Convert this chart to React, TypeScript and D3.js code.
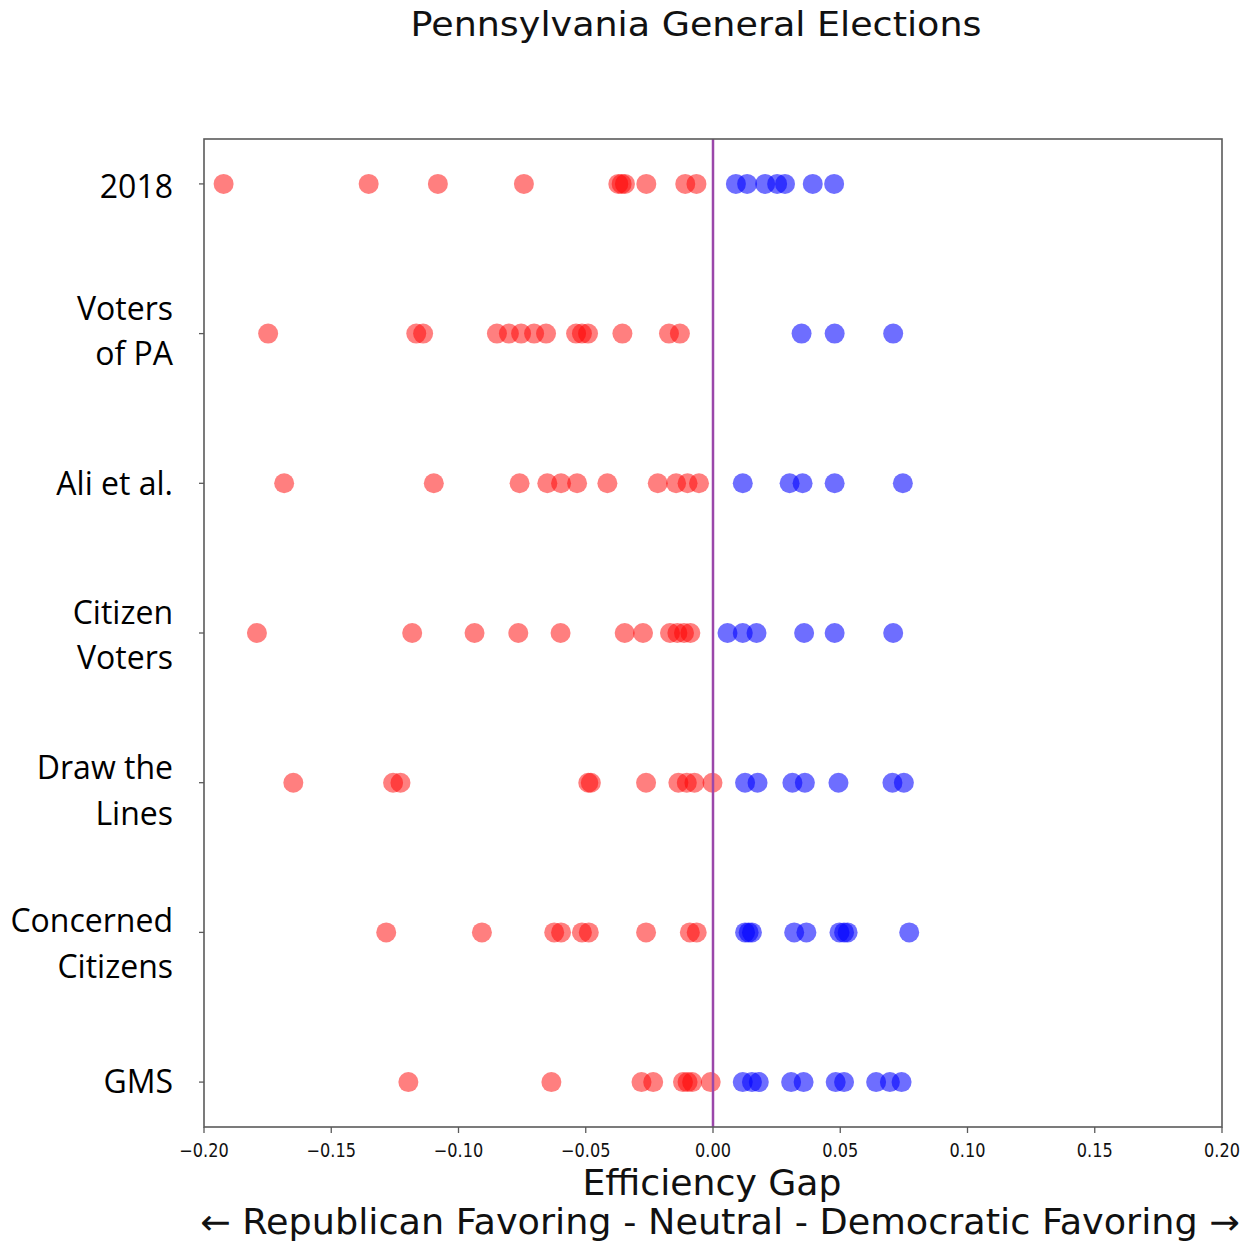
import React from "react";
import * as d3 from "d3";

// ---------- data ----------
const categories = [
  "2018",
  "Voters of PA",
  "Ali et al.",
  "Citizen Voters",
  "Draw the Lines",
  "Concerned Citizens",
  "GMS",
];
const categoryLines = [
  ["2018"],
  ["Voters", "of PA"],
  ["Ali et al."],
  ["Citizen", "Voters"],
  ["Draw the", "Lines"],
  ["Concerned", "Citizens"],
  ["GMS"],
];

const gaps2018 = [-0.1923, -0.1353, -0.1081, -0.0743, -0.0372, -0.0359, -0.0346, -0.0262, -0.0109, -0.0065, 0.009, 0.0134, 0.0205, 0.0252, 0.0283, 0.0392, 0.0476];
const gapsVotersPA = [-0.1748, -0.1166, -0.1139, -0.0849, -0.0802, -0.0754, -0.0703, -0.0656, -0.0538, -0.0515, -0.0491, -0.0356, -0.0173, -0.013, 0.0348, 0.0478, 0.0708];
const gapsAli = [-0.1685, -0.1097, -0.076, -0.0651, -0.0597, -0.0534, -0.0415, -0.0217, -0.0145, -0.01, -0.0055, 0.0117, 0.0301, 0.0352, 0.0478, 0.0746];
const gapsCitizenVoters = [-0.1792, -0.1182, -0.0937, -0.0765, -0.0599, -0.0347, -0.0275, -0.0169, -0.014, -0.0114, -0.0089, 0.0057, 0.0117, 0.0171, 0.0358, 0.0478, 0.0708];
const gapsDrawTheLines = [-0.1649, -0.1257, -0.1228, -0.049, -0.048, -0.0263, -0.0136, -0.0103, -0.0073, -0.0002, 0.0126, 0.0175, 0.0312, 0.0361, 0.0493, 0.0705, 0.075];
const gapsConcerned = [-0.1284, -0.0908, -0.0624, -0.0597, -0.0515, -0.0488, -0.0263, -0.0091, -0.0064, 0.0126, 0.014, 0.0153, 0.0319, 0.0367, 0.0497, 0.0515, 0.0529, 0.0771];
const gapsGMS = [-0.1197, -0.0635, -0.0281, -0.0235, -0.0118, -0.01, -0.0082, -0.0009, 0.0117, 0.0153, 0.018, 0.0307, 0.0356, 0.0482, 0.0515, 0.0641, 0.0695, 0.0741];

const seriesValues = [gaps2018, gapsVotersPA, gapsAli, gapsCitizenVoters, gapsDrawTheLines, gapsConcerned, gapsGMS];

const xTicks = [-0.2, -0.15, -0.1, -0.05, 0, 0.05, 0.1, 0.15, 0.2];

const titleText = "Pennsylvania General Elections";
const xLabel = "Efficiency Gap";
const xSubLabel = "\u2190 Republican Favoring - Neutral - Democratic Favoring \u2192";

// ---------- layout ----------
const W = 1255;
const H = 1243;
const left = 204;
const right = 1222;
const top = 139;
const bottom = 1127;
// baseline offset of first label line relative to its row (layout tweak)
const labelFirstBaseline = [14, -14, 12, -9.5, -3.5, 0, 11];
const labelLineHeight = 45.5;

export default function App() {
  const x = d3.scaleLinear().domain([-0.2, 0.2]).range([left, right]);
  const y = d3.scalePoint<string>().domain(categories).range([top, bottom]).padding(0.3);
  const fmt = d3.format(".2f");

  return (
    <svg
      width={W}
      height={H}
      viewBox={`0 0 ${W} ${H}`}
      style={{ position: "absolute", left: 0, top: 0, display: "block", background: "#fff" }}
    >
      <rect x={0} y={0} width={W} height={H} fill="#fff" />
      {/* title */}
      <text
        x={696}
        y={36}
        textAnchor="middle"
        fontFamily="DejaVu Sans"
        fontSize={34}
        textLength={571}
        lengthAdjust="spacingAndGlyphs"
        fill="#111"
      >
        {titleText}
      </text>

      {/* points */}
      {seriesValues.map((vals, i) =>
        vals.map((v, j) => (
          <circle
            key={`${i}-${j}`}
            cx={x(v)}
            cy={y(categories[i])}
            r={10}
            fill={v < 0 ? "rgb(255,0,0)" : "rgb(0,0,255)"}
            fillOpacity={v < 0 ? 0.5 : 0.57}
          />
        ))
      )}

      {/* zero line */}
      <line x1={x(0)} x2={x(0)} y1={top} y2={bottom} stroke="#9b47aa" strokeWidth={2.5} />

      {/* frame */}
      <rect x={left} y={top} width={right - left} height={bottom - top} fill="none" stroke="#5a5a5a" strokeWidth={1.6} />

      {/* y ticks & labels */}
      {categories.map((c, i) => (
        <g key={c}>
          <line x1={left - 5} x2={left} y1={y(c)} y2={y(c)} stroke="#5a5a5a" strokeWidth={1.3} />
          {categoryLines[i].map((ln, k) => (
            <text
              key={k}
              x={173}
              y={(y(c) as number) + labelFirstBaseline[i] + k * labelLineHeight}
              textAnchor="end"
              fontFamily="Open Sans"
              fontSize={32}
              fill="#000"
            >
              {ln}
            </text>
          ))}
        </g>
      ))}

      {/* x ticks & labels */}
      {xTicks.map((t) => (
        <g key={t}>
          <line x1={x(t)} x2={x(t)} y1={bottom} y2={bottom + 6} stroke="#5a5a5a" strokeWidth={1.3} />
          <text
            x={x(t)}
            y={1157}
            textAnchor="middle"
            fontFamily="DejaVu Sans"
            fontSize={19}
            fill="#111"
            transform={`translate(${x(t)},0) scale(0.85,1) translate(${-x(t)},0)`}
          >
            {fmt(t)}
          </text>
        </g>
      ))}

      {/* axis labels */}
      <text
        x={712}
        y={1195}
        textAnchor="middle"
        fontFamily="DejaVu Sans"
        fontSize={35}
        textLength={259}
        lengthAdjust="spacingAndGlyphs"
        fill="#111"
      >
        {xLabel}
      </text>
      <text
        x={720}
        y={1234}
        textAnchor="middle"
        fontFamily="DejaVu Sans"
        fontSize={35}
        textLength={1040}
        lengthAdjust="spacingAndGlyphs"
        fill="#111"
      >
        {xSubLabel}
      </text>
    </svg>
  );
}
